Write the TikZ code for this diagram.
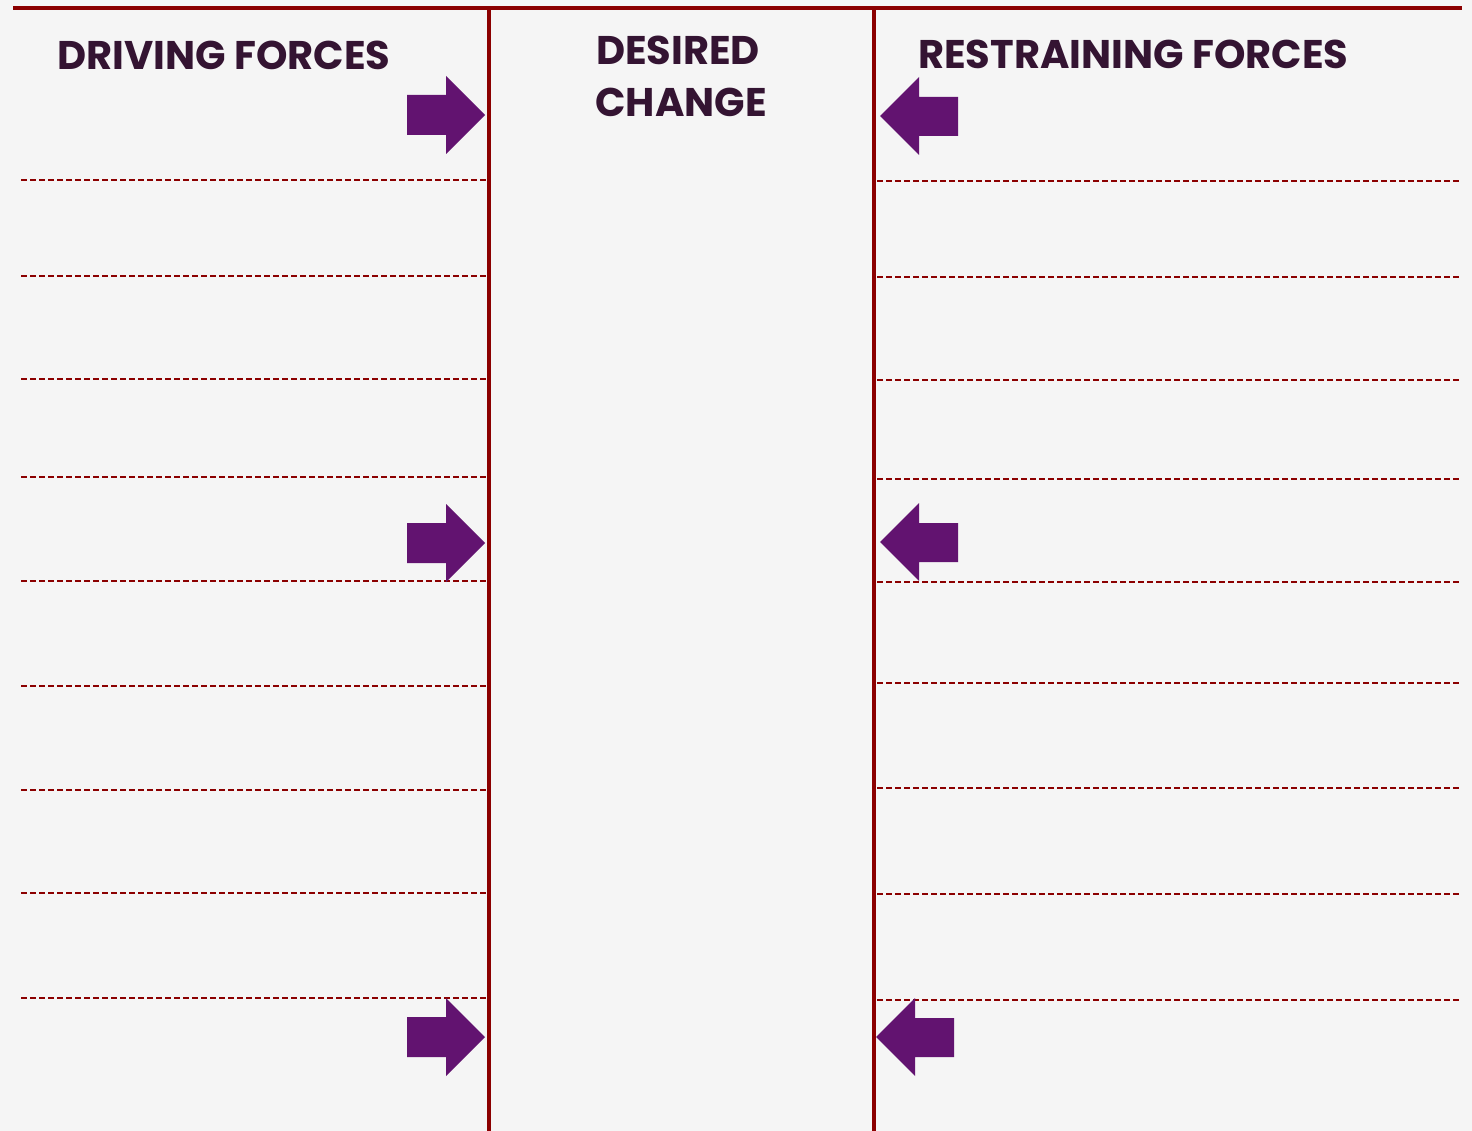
\documentclass[tikz,border=0pt]{standalone}
\usepackage{fontspec}
\setmainfont{Poppins}
\usepackage{tikz}
\usetikzlibrary{positioning}

\definecolor{bgcol}{HTML}{F5F5F5}
\definecolor{rulecol}{HTML}{8B0000}
\definecolor{headcol}{HTML}{341432}
\definecolor{forcecol}{HTML}{621370}

\tikzset{
  frame/.style={rulecol,line width=3.2pt},
  guide/.style={rulecol,line width=1.5pt,dash pattern=on 6pt off 3pt},
  head/.style={headcol,font=\fontsize{40}{48}\selectfont\bfseries,inner sep=0pt},
  force/.style={fill=forcecol}
}

\begin{document}
\begin{tikzpicture}[x=1pt,y=-1pt]
\fill[bgcol] (0,0) rectangle (1472,1131);
\useasboundingbox (0,0) rectangle (1472,1131);
% frame
\draw[frame] (13,8) -- (1462,8);
\draw[frame] (489,8) -- (489,1131);
\draw[frame] (874,8) -- (874,1131);
% lines to write on
\foreach \y in {180,276,379,477,581,686,790,893,998}
  \draw[guide] (21,\y) -- (487,\y);
\foreach \y in {181,277,380,479,582,683,788,894,1000}
  \draw[guide] (877,\y) -- (1460,\y);
% headings
\node[head,anchor=west] (driving) at (57,55) {DRIVING FORCES};
\node[head] (desired) at (678,50) {DESIRED};
\node[head] (change) at (681,102) {CHANGE};
\node[head,anchor=west] (restraining) at (918,54) {RESTRAINING FORCES};
% arrows
\foreach \c in {115,543,1037}
  \fill[force] (407,\c-20) -- (446,\c-20) -- (446,\c-39) -- (485,\c)
    -- (446,\c+39) -- (446,\c+20) -- (407,\c+20) -- cycle;
\foreach \c/\t in {116/880,542/880,1037/876}
  \fill[force] (\t,\c) -- (\t+39,\c-39) -- (\t+39,\c-19) -- (\t+78,\c-19)
    -- (\t+78,\c+20) -- (\t+39,\c+20) -- (\t+39,\c+39) -- cycle;
\end{tikzpicture}
\end{document}
